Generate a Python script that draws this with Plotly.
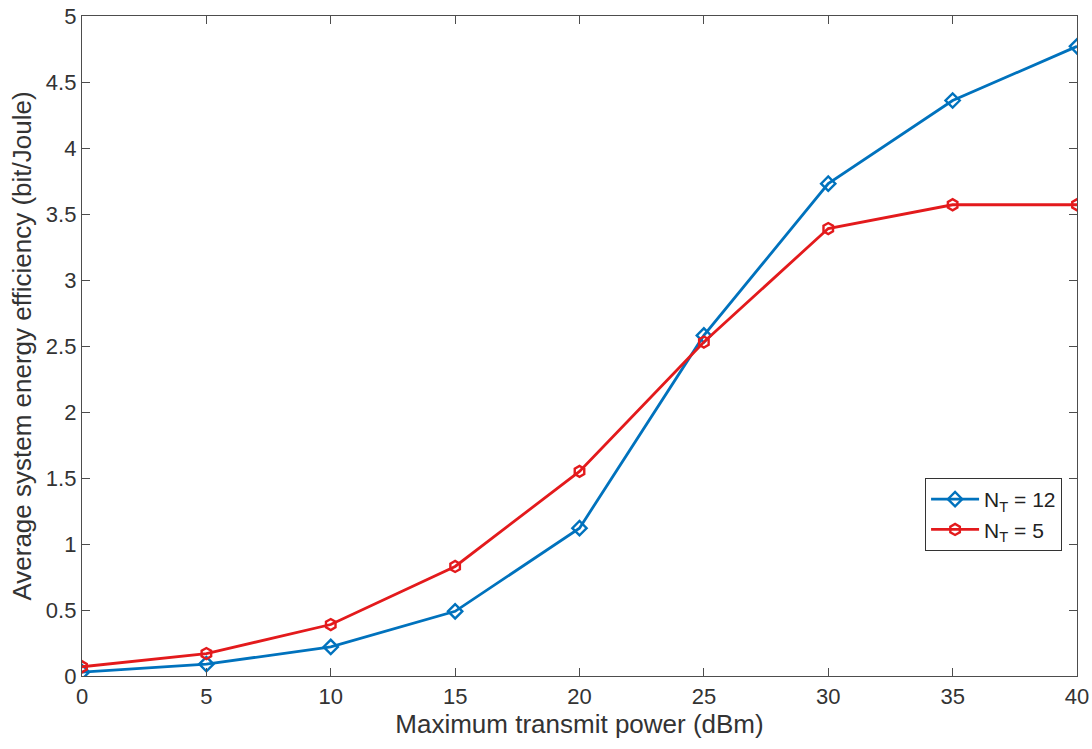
import plotly.graph_objects as go

# Transmit power sweep (dBm)
power_dbm = [0, 5, 10, 15, 20, 25, 30, 35, 40]

# Average system energy efficiency (bit/Joule)
ee_nt12 = [0.03, 0.09, 0.22, 0.49, 1.12, 2.58, 3.73, 4.36, 4.77]
ee_nt5 = [0.07, 0.17, 0.39, 0.83, 1.55, 2.53, 3.39, 3.57, 3.57]

x_ticks = [0, 5, 10, 15, 20, 25, 30, 35, 40]
y_ticks = [0, 0.5, 1, 1.5, 2, 2.5, 3, 3.5, 4, 4.5, 5]
y_tick_text = ["0", "0.5", "1", "1.5", "2", "2.5", "3", "3.5", "4", "4.5", "5"]

blue = "#0072BD"
red = "#E31A1C"
axis_color = "#4d4d4d"
text_color = "#333333"
font_family = "Liberation Sans, Arial, sans-serif"

fig = go.Figure()
fig.add_trace(go.Scatter(
    x=power_dbm, y=ee_nt12, mode="lines+markers", name="N<sub>T</sub> = 12",
    line=dict(color=blue, width=2.8),
    marker=dict(symbol="diamond-open", size=11, color=blue, line=dict(width=2.4)),
))
fig.add_trace(go.Scatter(
    x=power_dbm, y=ee_nt5, mode="lines+markers", name="N<sub>T</sub> = 5",
    line=dict(color=red, width=2.8),
    marker=dict(symbol="hexagon-open", size=11, color=red, line=dict(width=2.4)),
))

axis_common = dict(
    showline=True, linecolor=axis_color, linewidth=1.3, mirror="ticks",
    ticks="inside", ticklen=8, tickcolor=axis_color, tickwidth=1.3,
    showgrid=False, zeroline=False, automargin=False,
    tickfont=dict(family=font_family, size=22, color=text_color),
)

fig.update_xaxes(
    range=[0, 40], tickvals=x_ticks, ticktext=[str(v) for v in x_ticks],
    title=dict(text="Maximum transmit power (dBm)", standoff=6,
               font=dict(family=font_family, size=26, color=text_color)),
    **axis_common,
)
fig.update_yaxes(
    range=[0, 5], tickvals=y_ticks, ticktext=y_tick_text,
    title=dict(text="Average system energy efficiency (bit/Joule)", standoff=6,
               font=dict(family=font_family, size=26, color=text_color)),
    **axis_common,
)

fig.update_layout(
    width=1092, height=749,
    margin=dict(l=82, r=15, t=16, b=73),
    paper_bgcolor="white", plot_bgcolor="white",
    showlegend=True,
    legend=dict(
        x=0.985, y=0.30, xanchor="right", yanchor="top",
        bgcolor="white", bordercolor="#333333", borderwidth=1,
        font=dict(family=font_family, size=21, color="#222222"),
        itemwidth=48, tracegroupgap=4,
    ),
)

fig.write_html("out.html")
